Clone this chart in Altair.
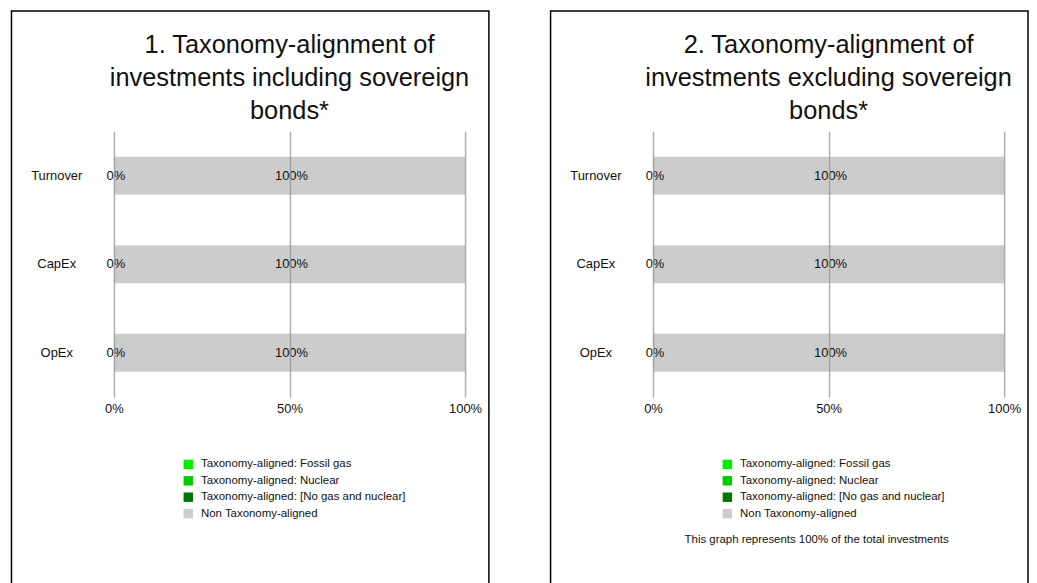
import altair as alt
import pandas as pd

categories = ["Turnover", "CapEx", "OpEx"]
series = [
    "Taxonomy-aligned: Fossil gas",
    "Taxonomy-aligned: Nuclear",
    "Taxonomy-aligned: [No gas and nuclear]",
    "Non Taxonomy-aligned",
]
colors = ["#00ee00", "#00cc00", "#007700", "#cccccc"]

# panel 1: including sovereign bonds
incl_fossil = [0, 0, 0]
incl_nuclear = [0, 0, 0]
incl_nogas = [0, 0, 0]
incl_non = [100, 100, 100]

# panel 2: excluding sovereign bonds
excl_fossil = [0, 0, 0]
excl_nuclear = [0, 0, 0]
excl_nogas = [0, 0, 0]
excl_non = [100, 100, 100]

titles = [
    "1. Taxonomy-alignment of\ninvestments including sovereign\nbonds*",
    "2. Taxonomy-alignment of\ninvestments excluding sovereign\nbonds*",
]
footnotes = ["", "This graph represents 100% of the total investments"]

FONT = "Liberation Sans"
TXT = "#111111"


def make_df(lists):
    rows = []
    for si, vals in enumerate(lists):
        for ci, cat in enumerate(categories):
            rows.append({"category": cat, "series": series[si], "order": si, "value": vals[ci]})
    return pd.DataFrame(rows)


def panel(df, title_text, footnote):
    base = alt.Chart(df)
    yenc = alt.Y(
        "category:N",
        sort=categories,
        title=None,
        scale=alt.Scale(paddingInner=0.57, paddingOuter=0.285),
        axis=alt.Axis(
            labelAlign="center", labelPadding=58, ticks=False, tickSize=0, domain=False,
            grid=False, labelFontSize=13, labelColor=TXT, labelFont=FONT,
        ),
    )
    bars = base.mark_bar().encode(
        y=yenc,
        x=alt.X(
            "value:Q",
            stack="zero",
            title=None,
            scale=alt.Scale(domain=[0, 100], nice=False),
            axis=alt.Axis(
                values=[0, 50, 100], labelExpr="datum.value + '%'", grid=True,
                gridColor="#999999", gridOpacity=0.8, gridWidth=1.5, ticks=False, domain=False,
                labelPadding=6, labelFontSize=13, labelColor=TXT, labelFont=FONT, zindex=1,
                labelFlush=False, labelAlign="center",
            ),
        ),
        color=alt.Color(
            "series:N",
            scale=alt.Scale(domain=series, range=colors),
            legend=alt.Legend(
                orient="none", legendX=69, legendY=329, title=None, symbolType="square",
                symbolSize=90, symbolStrokeWidth=0, labelFontSize=11.5, labelColor=TXT,
                labelFont=FONT, rowPadding=3.5, labelOffset=7, padding=0, labelLimit=400,
            ),
        ),
        order=alt.Order("order:Q"),
    )
    labels = (
        base.transform_stack(
            stack="value", groupby=["category"], as_=["v0", "v1"],
            sort=[alt.SortField("order", order="ascending")],
        )
        .transform_calculate(mid="(datum.v0 + datum.v1) / 2", lbl="datum.value + '%'")
        .transform_filter(alt.FieldOneOfPredicate(field="series", oneOf=[series[2], series[3]]))
        .mark_text(fontSize=13, color=TXT, font=FONT, dx=2)
        .encode(x=alt.X("mid:Q"), y=alt.Y("category:N", sort=categories), text="lbl:N")
    )
    one = pd.DataFrame({"t": [title_text], "f": [footnote]})
    border = alt.Chart(one).mark_rect(fillOpacity=0, stroke="black", strokeWidth=1.5).encode(
        x=alt.value(-103), x2=alt.value(377), y=alt.value(-121), y2=alt.value(470)
    )
    title = alt.Chart(one).mark_text(
        fontSize=25.5, lineHeight=33.5, lineBreak="\n", align="center", baseline="top",
        color=TXT, font=FONT,
    ).encode(x=alt.value(176.5), y=alt.value(-99), text="t:N")
    layers = [border, bars, labels, title]
    if footnote:
        foot = alt.Chart(one).mark_text(
            fontSize=11.5, align="center", baseline="middle", color=TXT, font=FONT
        ).encode(x=alt.value(164.5), y=alt.value(411), text="f:N")
        layers.append(foot)
    return alt.layer(*layers).properties(width=353, height=267)


p1 = panel(make_df([incl_fossil, incl_nuclear, incl_nogas, incl_non]), titles[0], footnotes[0])
p2 = panel(make_df([excl_fossil, excl_nuclear, excl_nogas, excl_non]), titles[1], footnotes[1])

chart = (
    alt.hconcat(p1, p2, spacing=60)
    .resolve_legend(color="independent")
    .properties(padding={"left": 2.5, "top": 0.5, "right": 0, "bottom": 0})
    .configure(font=FONT)
    .configure_view(stroke=None)
)

chart.save("out.html", embed_options={"renderer": "svg", "actions": False})
